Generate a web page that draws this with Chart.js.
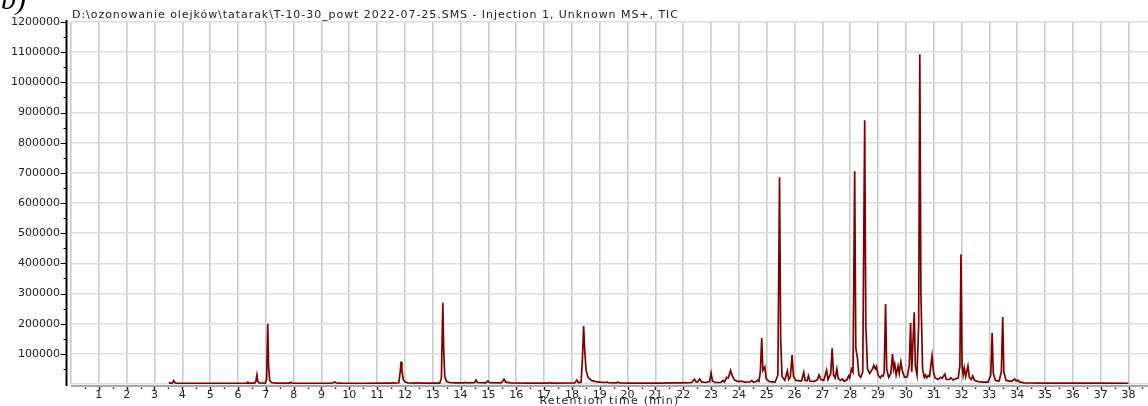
<!DOCTYPE html>
<html>
<head>
<meta charset="utf-8">
<script src="https://cdn.jsdelivr.net/npm/chart.js@4.4.1/dist/chart.umd.min.js"></script>
<style>
  body { margin: 0; background: #fff; }
  #wrap { position: relative; width: 1148px; height: 406px; }
  #tag { position: absolute; left: 1px; top: -16px; font: italic 30px "Liberation Serif", serif; color: #000; line-height: 30px; }
</style>
</head>
<body>
<div id="wrap">
  <canvas id="ticChart"></canvas>
  <div id="tag">b)</div>
</div>
<script>
// chromatogram: retention time (min) and TIC counts
const rtMin = [
  3.52, 3.55, 3.58, 3.64, 3.69, 3.73, 3.78, 4.5, 5.5, 6.2, 6.33, 6.36, 6.40, 6.6, 6.64, 6.68, 6.71, 6.76,
  6.98, 7.03, 7.07, 7.10, 7.14, 7.2, 7.35, 7.85, 7.9, 7.95, 8.5, 9.35, 9.42, 9.48, 9.53, 9.7, 10.5, 11.2,
  11.5, 11.55, 11.6, 11.78, 11.83, 11.86, 11.89, 11.94, 12.0, 12.1, 12.4, 12.46, 12.52, 13.25, 13.31, 13.36,
  13.39, 13.43, 13.5, 13.6, 13.8, 14.1, 14.14, 14.2, 14.5, 14.55, 14.6, 14.9, 14.98, 15.04, 15.45, 15.51,
  15.56, 15.62, 15.8, 16.5, 17.1, 17.19, 17.28, 18.1, 18.18, 18.23, 18.33, 18.38, 18.42, 18.46, 18.51, 18.58,
  18.7, 18.85, 19.0, 19.2, 19.25, 19.3, 19.6, 19.66, 19.72, 20.1, 20.5, 21.2, 21.7, 22.0, 22.05, 22.1,
  22.3, 22.4, 22.47, 22.53, 22.59, 22.66, 22.8, 22.95, 23.0, 23.05, 23.15, 23.35, 23.43, 23.48, 23.56, 23.62,
  23.7, 23.76, 23.85, 24.0, 24.12, 24.2, 24.4, 24.46, 24.52, 24.62, 24.67, 24.72, 24.77, 24.82, 24.86, 24.93,
  24.98, 25.1, 25.3, 25.4, 25.46, 25.5, 25.55, 25.65, 25.74, 25.79, 25.85, 25.91, 25.96, 26.05, 26.25, 26.33,
  26.38, 26.45, 26.5, 26.55, 26.7, 26.82, 26.88, 26.95, 27.05, 27.15, 27.2, 27.3, 27.35, 27.4, 27.46, 27.52,
  27.57, 27.65, 27.72, 27.78, 27.88, 27.94, 27.98, 28.05, 28.1, 28.16, 28.2, 28.26, 28.31, 28.38, 28.45, 28.52,
  28.56, 28.62, 28.7, 28.8, 28.85, 28.9, 28.94, 29.0, 29.08, 29.13, 29.18, 29.22, 29.27, 29.31, 29.38, 29.46,
  29.52, 29.56, 29.6, 29.65, 29.72, 29.76, 29.82, 29.87, 29.95, 30.05, 30.12, 30.17, 30.21, 30.3, 30.34, 30.4,
  30.46, 30.5, 30.54, 30.6, 30.66, 30.7, 30.75, 30.8, 30.85, 30.94, 30.99, 31.05, 31.15, 31.25, 31.3, 31.4,
  31.45, 31.55, 31.62, 31.7, 31.8, 31.88, 31.94, 31.98, 32.02, 32.06, 32.1, 32.15, 32.23, 32.28, 32.35, 32.4,
  32.46, 32.6, 32.8, 32.95, 33.05, 33.1, 33.14, 33.22, 33.35, 33.43, 33.48, 33.52, 33.6, 33.8, 33.91, 33.96,
  34.02, 34.08, 34.25, 35.0, 36.0, 37.0, 38.0
];
const ticCounts = [
  1500, 4500, 2500, 3000, 11000, 5000, 2500, 2200, 2300, 2500, 3000, 5500, 2800, 3000, 8000, 30000, 9000, 3500,
  3000, 15000, 200000, 60000, 12000, 5000, 3000, 2800, 5500, 3000, 2500, 2800, 4000, 7000, 3500, 2800, 2500, 2600,
  3000, 4500, 3000, 4000, 40000, 74000, 45000, 15000, 7000, 4000, 3000, 4500, 3000, 3000, 20000, 269000,
  120000, 25000, 8000, 5000, 3500, 3500, 5000, 3500, 4500, 13000, 5000, 4000, 10000, 4500, 4000, 9000,
  16000, 6000, 3500, 3000, 3000, 4500, 3000, 3500, 13000, 5000, 6000, 90000, 192000, 110000, 45000, 22000,
  12000, 8000, 6000, 5000, 6500, 4500, 4000, 6000, 4000, 3000, 3000, 3000, 3500, 3500, 5000, 3500,
  5000, 16000, 6000, 8000, 17000, 7000, 5000, 8000, 36000, 10000, 5000, 5000, 12000, 7000, 22000, 20000,
  45000, 28000, 12000, 8000, 9500, 6000, 7000, 11000, 6000, 8000, 13000, 9000, 40000, 152000, 45000, 57000,
  18000, 8000, 6000, 30000, 685000, 150000, 25000, 12000, 43000, 15000, 25000, 96000, 25000, 12000, 10000, 39000,
  12000, 11000, 27000, 10000, 9000, 14000, 30000, 15000, 12000, 46000, 15000, 35000, 118000, 30000, 20000, 50000,
  18000, 12000, 17000, 9000, 14000, 27000, 20000, 50000, 40000, 705000, 120000, 85000, 30000, 22000, 40000, 874000,
  200000, 50000, 35000, 50000, 62000, 50000, 58000, 30000, 20000, 28000, 26000, 40000, 265000, 50000, 22000, 35000,
  99000, 50000, 66000, 30000, 60000, 35000, 73000, 45000, 22000, 24000, 60000, 202000, 40000, 238000, 60000, 30000,
  200000, 1093000, 300000, 50000, 22000, 30000, 20000, 28000, 25000, 93000, 40000, 20000, 16000, 22000, 18000, 33000,
  15000, 15000, 20000, 13000, 18000, 20000, 60000, 430000, 60000, 30000, 53000, 25000, 60000, 22000, 15000, 27000,
  12000, 8000, 6000, 6000, 30000, 170000, 35000, 12000, 10000, 40000, 222000, 40000, 12000, 9000, 17000, 10000,
  13000, 7000, 4000, 3000, 2800, 2600, 2500
];
const yTicks = [0, 100000, 200000, 300000, 400000, 500000, 600000, 700000, 800000, 900000, 1000000, 1100000, 1200000];
const chartTitle = 'D:\\ozonowanie olejków\\tatarak\\T-10-30_powt 2022-07-25.SMS - Injection 1, Unknown MS+, TIC';
const xTitle = 'Retention time (min)';

const FONT = '"DejaVu Sans", Verdana, sans-serif';

// axis lines, tick marks and the two titles, drawn like the instrument software does
const decor = {
  id: 'decor',
  afterDraw(chart) {
    const { ctx, chartArea: a, scales } = chart;
    const ys = scales.y, xs = scales.x;
    ctx.save();
    // x axis bar
    ctx.strokeStyle = '#a8a8a8';
    ctx.lineWidth = 2;
    ctx.beginPath();
    ctx.moveTo(a.left, a.bottom + 2);
    ctx.lineTo(a.right, a.bottom + 2);
    ctx.stroke();
    ctx.strokeStyle = '#222';
    ctx.lineWidth = 1.5;
    for (let t = 0.5; t <= xs.max; t += 0.5) {
      const px = Math.round(xs.getPixelForValue(t)) + 0.5;
      ctx.beginPath();
      if (t % 1 === 0) {
        ctx.moveTo(px, a.bottom + 3);
        ctx.lineTo(px, a.bottom + 6);
      } else {
        ctx.moveTo(px, a.bottom + 3.5);
        ctx.lineTo(px, a.bottom + 5);
      }
      ctx.stroke();
    }
    // y axis bar
    const ax = a.left - 4.5;
    ctx.strokeStyle = '#000';
    ctx.lineWidth = 2;
    ctx.beginPath();
    ctx.moveTo(ax, a.top - 2);
    ctx.lineTo(ax, a.bottom + 2);
    ctx.stroke();
    ctx.lineWidth = 1;
    for (let v = 50000; v <= ys.max; v += 50000) {
      const py = Math.round(ys.getPixelForValue(v)) + 0.5;
      const len = v % 100000 === 0 ? 6 : 3;
      ctx.beginPath();
      ctx.moveTo(ax - len, py);
      ctx.lineTo(ax, py);
      ctx.stroke();
    }
    // titles
    ctx.fillStyle = '#222';
    ctx.font = '11px ' + FONT;
    ctx.textBaseline = 'middle';
    ctx.textAlign = 'left';
    ctx.letterSpacing = '0.95px';
    ctx.fillText(chartTitle, a.left + 1, 15);
    ctx.letterSpacing = '1.3px';
    ctx.textAlign = 'center';
    ctx.fillText(xTitle, (a.left + a.right) / 2, 401);
    ctx.restore();
  }
};

const points = rtMin.map((t, i) => ({ x: t, y: ticCounts[i] }));

new Chart(document.getElementById('ticChart'), {
  type: 'line',
  data: {
    datasets: [{
      data: points,
      borderColor: 'rgb(128, 0, 0)',
      borderWidth: 1.7,
      pointRadius: 0,
      tension: 0,
      fill: false
    }]
  },
  options: {
    responsive: true,
    maintainAspectRatio: false,
    animation: false,
    layout: { padding: { top: 22, left: 0, right: 0, bottom: 0 } },
    plugins: {
      legend: { display: false },
      tooltip: { enabled: false }
    },
    scales: {
      x: {
        type: 'linear',
        min: 0,
        max: 38.7,
        afterFit: (s) => { s.height = 22; },
        border: { display: false },
        grid: { color: '#cbcbcb', lineWidth: 1.6, drawTicks: false },
        ticks: {
          stepSize: 1,
          includeBounds: false,
          autoSkip: false,
          maxRotation: 0,
          padding: 5,
          color: '#222',
          font: { family: FONT, size: 11 },
          callback: (v) => (v >= 1 && v <= 38 ? String(v) : '')
        }
      },
      y: {
        min: 0,
        max: 1200000,
        afterFit: (s) => { s.width = 71; },
        afterBuildTicks: (s) => { s.ticks = yTicks.map((v) => ({ value: v })); },
        border: { display: false },
        grid: { color: '#dedede', lineWidth: 1.6, drawTicks: false },
        ticks: {
          padding: 11,
          color: '#222',
          font: { family: FONT, size: 11 },
          callback: (v) => (v === 0 ? '' : String(v))
        }
      }
    }
  },
  plugins: [decor]
});
</script>
</body>
</html>
